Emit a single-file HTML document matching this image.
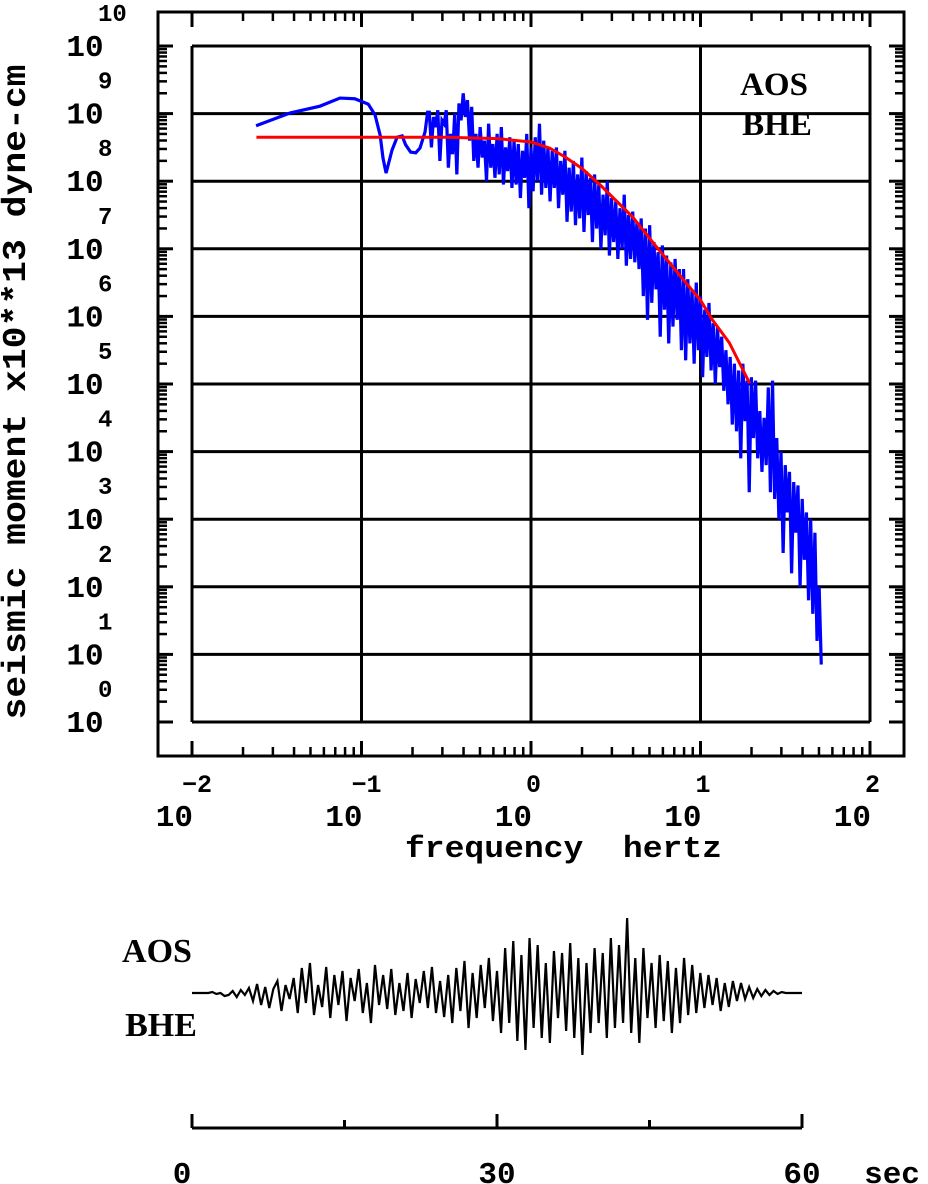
<!DOCTYPE html>
<html><head><meta charset="utf-8"><style>
html,body{margin:0;padding:0;background:#fff}
svg{display:block}
.t{font-family:"Liberation Mono",monospace;font-weight:bold;fill:#000}
.s{font-family:"Liberation Serif",serif;font-weight:bold;fill:#000}
</style></head><body>
<svg id="chart" width="928" height="1184" viewBox="0 0 928 1184" xmlns="http://www.w3.org/2000/svg">
<g id="frame"></g>
<g id="grid"></g>
<g id="ticks"></g>
<g id="labels"></g>
<text class="t" transform="translate(25,392) rotate(-90)" text-anchor="middle" font-size="33" textLength="655" lengthAdjust="spacingAndGlyphs">seismic moment x10**13 dyne-cm</text>
<text class="t" x="405" y="857" font-size="31" textLength="317" lengthAdjust="spacingAndGlyphs" xml:space="preserve">frequency  hertz</text>
<text class="s" x="774" y="95" text-anchor="middle" font-size="33">AOS</text>
<text class="s" x="777" y="135" text-anchor="middle" font-size="33">BHE</text>
<g id="series"></g>
<text class="s" x="157" y="962" text-anchor="middle" font-size="34">AOS</text>
<text class="s" x="161" y="1036" text-anchor="middle" font-size="34">BHE</text>
<g id="seis"></g>
</svg>
<script>
// ---- data ----
const smoothF = [-1.622,-1.42,-1.245,-1.127,-1.04,-0.96,-0.92,-0.89,-0.873,-0.855,-0.82,-0.79,-0.76,-0.74,-0.71,-0.68,-0.655,-0.625,-0.61];
const smoothM = [8.82,9.01,9.11,9.23,9.22,9.14,8.98,8.68,8.34,8.12,8.46,8.65,8.67,8.54,8.43,8.42,8.49,8.73,9.02];
const noiseStartF = -0.6;
const noiseStepF = 0.025;
const noiseHi = [9.02,8.95,9.05,8.9,9.05,8.7,9.0,9.15,9.3,9.2,
 9.1,8.7,8.8,8.6,8.85,8.55,8.7,8.8,8.5,8.65,
 8.6,8.55,8.45,8.7,8.5,8.65,8.85,8.6,8.5,8.45,
 8.5,8.3,8.45,8.2,8.3,8.1,8.35,8.15,8.05,8.1,
 7.95,7.8,8.0,7.75,7.7,7.6,7.8,7.5,7.55,7.4,
 7.45,7.3,7.35,7.1,6.95,7.05,6.9,6.8,6.85,6.7,
 6.7,6.55,6.4,6.5,6.3,6.1,6.2,5.9,5.85,5.7,
 5.5,5.4,5.3,5.2,5.3,5.05,5.1,5.05,4.6,4.5,
 4.95,5.05,4.2,4.0,3.8,3.7,3.55,3.5,3.3,3.1,
 3.0,2.8,2.0];
const noiseLo = [8.5,8.8,8.3,8.85,8.2,8.4,8.1,8.9,8.95,8.6,
 8.3,8.2,8.35,8.0,8.2,8.05,8.1,7.95,8.15,7.9,
 7.95,7.75,8.05,7.6,7.85,8.0,7.8,7.9,7.7,7.9,
 7.6,7.8,7.4,7.55,7.35,7.45,7.25,7.5,7.1,7.3,
 7.0,7.2,6.9,7.1,6.85,7.0,6.75,6.85,6.8,6.7,
 6.3,5.95,6.2,6.4,5.7,6.1,5.6,5.85,5.95,5.5,
 5.35,5.6,5.3,5.5,5.1,5.4,5.2,5.0,5.25,4.9,
 4.7,4.4,4.3,3.9,4.45,3.4,4.2,3.9,3.7,3.8,
 3.4,3.3,3.0,2.5,3.1,2.2,2.8,2.0,2.4,1.8,
 1.6,1.2,0.85];
const modelF = [-1.62,-1.0,-0.5,-0.2,0,0.11,0.2,0.3,0.41,0.6,0.74,0.9,1.0,1.07,1.17,1.29];
const modelM = [8.65,8.65,8.65,8.63,8.58,8.49,8.36,8.19,7.94,7.47,7.03,6.54,6.24,5.95,5.61,5.01];
const xDecades = [-2,-1,0,1,2];
const yDecades = [0,1,2,3,4,5,6,7,8,9,10];
const seisDt = 0.4;
const seisAmp = [0,0,0,0,0,
 1,-1,0,-3,-2,2,-4,3,
 -2,5,-8,9,-12,6,-15,4,12,-18,8,-6,15,
 -20,25,-10,30,-22,8,-14,26,-25,18,-12,22,-28,15,-8,24,-20,10,-30,28,-12,18,-16,24,-22,10,-18,20,-25,14,-10,22,-15,26,-20,12,-24,18,
 -30,25,-18,32,-35,20,-25,28,-15,35,-28,22,
 -40,45,-30,52,-48,38,-57,55,-35,48,-45,30,-50,42,-25,40,-38,50,-45,35,-62,30,-40,45,-30,
 40,-45,55,-35,48,-30,75,-40,35,-50,45,-25,
 30,-35,38,-28,32,-40,25,-30,35,-22,28,-20,
 20,-15,18,-12,15,-18,10,-14,12,-8,10,-6,
 6,-5,4,-3,3,-2,2,-1,1,0,0,0,0,0];
const timeTicks = [0,15,30,45,60];
const timeLabels = ["0","30","60"];
const timeLabelVals = [0,30,60];

// ---- axes ----
const NS='http://www.w3.org/2000/svg';
const X0=192,X1=870,Y0=722,Y1=46;
const sx = f => X0 + (f+2)*(X1-X0)/4;
const sy = m => Y0 - m*(Y0-Y1)/10;
const TX0=192,TX1=802,TBASE=993;
const st = t => TX0 + t*(TX1-TX0)/60;
const sa = a => TBASE - a;

function mk(tag, parent, attrs){
  const e=document.createElementNS(NS,tag);
  for(const k in attrs) e.setAttribute(k,attrs[k]);
  parent.appendChild(e); return e;
}
const frame=document.getElementById('frame'), grid=document.getElementById('grid'),
 ticks=document.getElementById('ticks'), labels=document.getElementById('labels'),
 series=document.getElementById('series'), seis=document.getElementById('seis');

let fr=mk('rect',frame,{x:158,y:12,width:746,height:744,fill:'none',stroke:'#000','stroke-width':3});



xDecades.forEach(d=>{
  const l=mk('line',grid,{x1:sx(d),x2:sx(d),y1:Y1,y2:Y0,stroke:'#000','stroke-width':3});
  
  
});
yDecades.forEach(d=>{
  const l=mk('line',grid,{x1:X0,x2:X1,y1:sy(d),y2:sy(d),stroke:'#000','stroke-width':3});
  
  
});

function tk(x1,y1,x2,y2,w){
  const l=mk('line',ticks,{x1,y1,x2,y2,stroke:'#000','stroke-width':w});
  
  
}
xDecades.forEach((d,i)=>{
  tk(sx(d),12,sx(d),27,3); tk(sx(d),756,sx(d),741,3);
  if(i<xDecades.length-1) for(let k=2;k<=9;k++){
    const x=sx(d+Math.log10(k)); tk(x,12,x,21,2.5); tk(x,756,x,747,2.5);
  }
});
yDecades.forEach((d,i)=>{
  tk(158,sy(d),173,sy(d),3); tk(904,sy(d),889,sy(d),3);
  if(i<yDecades.length-1) for(let k=2;k<=9;k++){
    const y=sy(d+Math.log10(k)); tk(158,y,167,y,2.5); tk(904,y,895,y,2.5);
  }
});

function tx(parent,x,y,s,size,anchor,name){
  const t=mk('text',parent,{x,y,'font-size':size,'text-anchor':anchor,class:'t'});
  t.textContent=s;
  
  
  return t;
}
yDecades.forEach(d=>{
  tx(labels,85,sy(d)+10,'10',31,'middle','y-tick-label');
  tx(labels,98,sy(d)-25,String(d),24,'start','y-tick-exponent');
});
xDecades.forEach(d=>{
  tx(labels,sx(d)+1,826,'10',31,'end','x-tick-label');
  tx(labels,sx(d)-(d<0?10:5),792,(d<0?'\u2212':'')+Math.abs(d),25,'start','x-tick-exponent');
});

let pts=smoothF.map((f,i)=>sx(f)+','+sy(smoothM[i]));
noiseHi.forEach((h,i)=>{
  const f=noiseStartF+i*noiseStepF;
  pts.push(sx(f)+','+sy(h));
  pts.push(sx(f+noiseStepF/2)+','+sy(noiseLo[i]));
});
const blue=mk('polyline',series,{points:pts.join(' '),fill:'none',stroke:'#0000ff','stroke-width':3.2,'stroke-linejoin':'miter'});



const red=mk('polyline',series,{points:modelF.map((f,i)=>sx(f)+','+sy(modelM[i])).join(' '),fill:'none',stroke:'#ff0000','stroke-width':3});



const tr=mk('polyline',seis,{points:seisAmp.map((a,i)=>st(i*seisDt)+','+sa(a)).join(' '),fill:'none',stroke:'#000','stroke-width':2.2});


const ax=mk('line',seis,{x1:TX0,x2:TX1,y1:1128,y2:1128,stroke:'#000','stroke-width':3});


timeTicks.forEach((t,i)=>{
  const l=mk('line',seis,{x1:st(t),x2:st(t),y1:1128,y2:(i%2===0?1114:1120),stroke:'#000','stroke-width':3});
  
  
});
timeLabels.forEach((s,i)=>{
  tx(seis,st(timeLabelVals[i])-(i===0?10:0),1183,s,31,'middle','time-tick-label');
});
tx(seis,892,1183,'sec',31,'middle','time-unit-label');
</script>
</body></html>
